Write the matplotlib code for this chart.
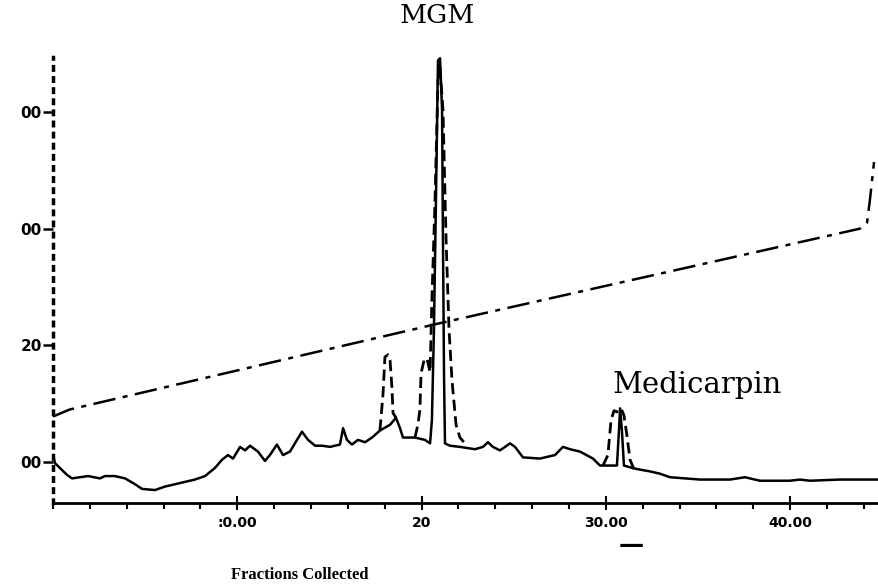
import numpy as np
import matplotlib
matplotlib.use("Agg")
import matplotlib.pyplot as plt
from matplotlib.ticker import MultipleLocator

# solid trace (absorbance), fractions collected vs detector units
solid_x = [0, 0.11, 0.76, 1.03, 1.90, 2.55, 2.82, 3.36, 3.91, 4.45, 4.83, 5.53, 6.08, 6.89,
           7.70, 8.25, 8.79, 9.17, 9.50, 9.77, 10.15, 10.42, 10.69, 11.12, 11.50, 11.77,
           12.15, 12.48, 12.86, 13.24, 13.51, 13.84, 14.22, 14.60, 15.03, 15.57, 15.74,
           15.95, 16.22, 16.55, 16.93, 17.31, 17.74, 18.29, 18.61, 18.83, 18.99, 19.21,
           19.64, 20.18, 20.46, 20.56, 20.67, 20.78, 20.89, 21.00, 21.11, 21.16, 21.22,
           21.27, 21.54, 22.08, 22.90, 23.33, 23.60, 23.87, 24.25, 24.53, 24.80, 25.07,
           25.50, 26.42, 27.24, 27.67, 28.05, 28.59, 29.30, 29.68, 30.11, 30.60, 30.71,
           30.77, 30.87, 30.98, 31.42, 31.69, 32.39, 32.94, 33.48, 35.11, 36.73, 37.55,
           38.36, 39.99, 40.53, 41.07, 42.70, 44.82]
solid_y = [0.06, -0.01, -0.11, -0.14, -0.12, -0.14, -0.12, -0.12, -0.14, -0.19, -0.23, -0.24,
           -0.21, -0.18, -0.15, -0.12, -0.05, 0.02, 0.06, 0.03, 0.13, 0.10, 0.14, 0.09, 0.01,
           0.06, 0.15, 0.06, 0.09, 0.19, 0.26, 0.19, 0.14, 0.14, 0.13, 0.15, 0.29, 0.19,
           0.15, 0.19, 0.17, 0.21, 0.27, 0.32, 0.38, 0.29, 0.21, 0.21, 0.21, 0.19, 0.16,
           0.36, 1.13, 2.25, 3.44, 3.46, 3.02, 1.90, 0.70, 0.16, 0.14, 0.13, 0.11, 0.13,
           0.17, 0.13, 0.10, 0.13, 0.16, 0.13, 0.04, 0.03, 0.06, 0.13, 0.11, 0.09, 0.03,
           -0.03, -0.03, -0.03, 0.27, 0.46, 0.27, -0.03, -0.05, -0.06, -0.08, -0.10, -0.13,
           -0.15, -0.15, -0.13, -0.16, -0.16, -0.15, -0.16, -0.15, -0.15]

# dashed trace, only where it separates from the solid one
dash_x = [17.74, 17.91, 18.01, 18.18, 18.29, 18.39, 18.45, 18.61, np.nan,
          19.64, 19.80, 19.91, 19.97, 20.13, 20.29, 20.46, 20.56, 20.73, 20.89, 21.00,
          21.16, 21.33, 21.49, 21.65, 21.87, 22.08, 22.41, np.nan,
          29.84, 30.11, 30.28, 30.44, 30.60, 30.82, 30.98, 31.14, 31.31, 31.52]
dash_y = [0.27, 0.59, 0.90, 0.92, 0.87, 0.64, 0.42, 0.38, np.nan,
          0.21, 0.32, 0.45, 0.76, 0.87, 0.89, 0.77, 1.39, 2.25, 3.27, 3.38,
          3.02, 1.90, 1.13, 0.70, 0.32, 0.21, 0.15, np.nan,
          -0.03, 0.06, 0.36, 0.44, 0.43, 0.46, 0.40, 0.23, 0.02, -0.06]

# solvent gradient
grad_x = [0, 0.9, 21.0, 43.79, 44.17, 44.33, 44.55]
grad_y = [0.39, 0.45, 1.19, 2.00, 2.05, 2.25, 2.57]

xticks = [10, 20, 30, 40]
xticklabels = [':0.00', '20', '30.00', '40.00']
yticks = [0, 1, 2, 3]
yticklabels = ['00', '20', '00', '00']

fig = plt.figure(figsize=(8.79, 5.86), dpi=100)
ax = fig.add_axes([0.0603, 0.1416, 0.9397, 0.761])

ax.plot(solid_x, solid_y, color='black', lw=1.8)
ax.plot(dash_x, dash_y, color='black', lw=2, linestyle=(0, (4, 2)))
ax.plot(grad_x, grad_y, color='black', lw=1.8, linestyle=(0, (9, 3, 2, 3)))

ax.set_xlim(0, 44.82)
ax.set_ylim(-0.351, 3.47)

for s in ['top', 'right']:
    ax.spines[s].set_visible(False)
ax.spines['left'].set_linestyle((0, (1, 2.2)))
ax.spines['left'].set_linewidth(2.5)
ax.spines['bottom'].set_linewidth(2)

ax.set_xticks(xticks, labels=xticklabels)
ax.xaxis.set_minor_locator(MultipleLocator(2))
ax.tick_params(axis='x', which='major', direction='inout', length=10, width=1.5, pad=4,
               labelsize=10)
ax.tick_params(axis='x', which='minor', direction='out', length=4, width=1.5)
ax.set_yticks(yticks, labels=yticklabels)
ax.tick_params(axis='y', direction='out', length=7, width=1.8, pad=1, labelsize=11)
for lab in ax.get_xticklabels() + ax.get_yticklabels():
    lab.set_fontweight('bold')

ax.set_xlabel('Fractions Collected', family='Liberation Serif', fontweight='bold', fontsize=12)
ax.xaxis.set_label_coords(0.299, -0.161)
ax.xaxis.label.set_va('center')

ax.text(20.85, 3.83, 'MGM', family='DejaVu Serif', fontsize=19, ha='center', va='center',
        clip_on=False)
ax.text(34.94, 0.66, 'Medicarpin', family='DejaVu Serif', fontsize=21, ha='center',
        va='center')
ax.text(31.4, -0.711, '\u2014', fontsize=18, fontweight='bold', ha='center', va='center',
        clip_on=False)

fig.savefig('out.png', dpi=100)
